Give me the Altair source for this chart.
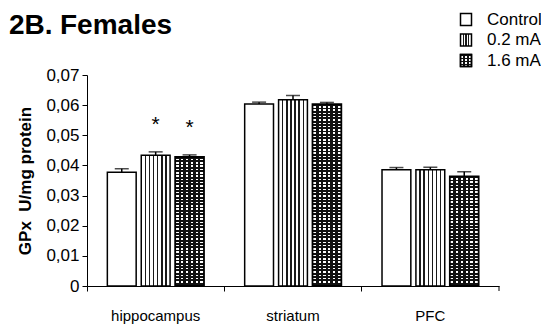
import altair as alt
import pandas as pd

# ---------------- data ----------------
regions = ["hippocampus", "striatum", "PFC"]
groups = ["Control", "0.2 mA", "1.6 mA"]
mean_control = [0.0377, 0.0604, 0.0386]
mean_02 = [0.0434, 0.0618, 0.0386]
mean_16 = [0.0428, 0.0603, 0.0364]
err_control = [0.0012, 0.0006, 0.0007]
err_02 = [0.0011, 0.0014, 0.0008]
err_16 = [0.0007, 0.0006, 0.0015]
star_02 = [True, False, False]
star_16 = [True, False, False]
y_ticks = [0, 0.01, 0.02, 0.03, 0.04, 0.05, 0.06, 0.07]

rows = []
for g, m, e, s in [("Control", mean_control, err_control, [False] * 3),
                   ("0.2 mA", mean_02, err_02, star_02),
                   ("1.6 mA", mean_16, err_16, star_16)]:
    for r, mv, ev, sv in zip(regions, m, e, s):
        rows.append({"region": r, "group": g, "mean": mv, "err": ev,
                     "upper": mv + ev, "star": sv})
df = pd.DataFrame(rows)

FONT = "Liberation Sans"
W, H = 412, 211
PX_PER_UNIT = H / 0.07


# ---------------- pattern helpers ----------------
def banded(bands, bg, fg, vertical=False):
    stops = [alt.GradientStop(color=bg, offset=0)]
    for s, e in bands:
        stops += [alt.GradientStop(color=bg, offset=s),
                  alt.GradientStop(color=fg, offset=s),
                  alt.GradientStop(color=fg, offset=e),
                  alt.GradientStop(color=bg, offset=e)]
    stops.append(alt.GradientStop(color=bg, offset=1))
    if vertical:
        return alt.LinearGradient(gradient="linear", stops=stops, x1=0, x2=0, y1=0, y2=1)
    return alt.LinearGradient(gradient="linear", stops=stops, x1=0, x2=1, y1=0, y2=0)


def lines(n, half):
    return [(i / (n + 1) - half, i / (n + 1) + half) for i in range(1, n + 1)]


def rows_bands(n, frac=0.5):
    return [(k / n, k / n + frac / n) for k in range(n)]


TRANSP = "rgba(0,0,0,0)"
stripe02 = banded(lines(6, 0.025), "white", "#1a1a1a")
base16 = banded(lines(5, 0.045), "white", "#111111")
leg02 = banded(lines(3, 0.05), "white", "#1a1a1a")
leg16 = banded(lines(2, 0.09), "white", "#111111")
leg16h = banded(rows_bands(4, 0.5), TRANSP, "#111111", vertical=True)

# ---------------- encodings ----------------
x_enc = alt.X("region:N", sort=regions,
              scale=alt.Scale(paddingInner=0, paddingOuter=0),
              axis=alt.Axis(title=None, labelAngle=0, bandPosition=0,
                            labelFont=FONT, labelFontSize=15,
                            labelColor="black", labelPadding=17, tickSize=5,
                            tickColor="black", domainColor="black",
                            domainWidth=1, tickWidth=1))
xo_enc = alt.XOffset("group:N", sort=groups,
                     scale=alt.Scale(paddingInner=0.15, paddingOuter=0.6))
y_axis = alt.Axis(values=y_ticks, grid=False,
                  labelExpr="datum.value == 0 ? '0' : replace(format(datum.value, '.2f'), '.', ',')",
                  labelFont=FONT, labelFontSize=17, labelColor="black",
                  labelPadding=3, tickSize=5, tickColor="black",
                  domainColor="black", title="GPx\u00a0\u00a0U/mg protein",
                  titleFont=FONT, titleFontSize=17, titleFontWeight="bold",
                  titleColor="black", titleAngle=-90, titleBaseline="middle",
                  titleX=-62, titleY=H / 2)
y_scale = alt.Scale(domain=[0, 0.07], nice=False, zero=True)


def Y(field):
    return alt.Y(f"{field}:Q", scale=y_scale, axis=y_axis)


base = alt.Chart(df).encode(x=x_enc, xOffset=xo_enc)

bars_c = base.transform_filter(alt.datum.group == "Control").mark_bar(
    fill="white", stroke="black", strokeWidth=1.5).encode(y=Y("mean"))
bars_02 = base.transform_filter(alt.datum.group == "0.2 mA").mark_bar(
    fill=stripe02, stroke="black", strokeWidth=1.5).encode(y=Y("mean"))
bars_16 = base.transform_filter(alt.datum.group == "1.6 mA").mark_bar(
    fill=base16, strokeWidth=0).encode(y=Y("mean"))

overlays = []
for r, mv in zip(regions, mean_16):
    n = max(1, round(mv * PX_PER_UNIT / 3.3))
    grad = banded(rows_bands(n, 0.55), TRANSP, "#111111", vertical=True)
    overlays.append(
        base.transform_filter((alt.datum.group == "1.6 mA") & (alt.datum.region == r))
        .mark_bar(fill=grad, stroke="black", strokeWidth=1.8).encode(y=Y("mean")))

err_rule = base.mark_rule(color="black", strokeWidth=1.5).encode(
    y=Y("mean"), y2="upper:Q")
err_cap = base.mark_tick(color="black", thickness=1.5, size=14,
                         orient="horizontal").encode(y=Y("upper"))
stars = base.transform_filter(alt.datum.star).mark_text(
    text="*", fontSize=21, font=FONT, dy=-27, color="black").encode(y=Y("upper"))

one = pd.DataFrame({"k": [0]})
title_a = alt.Chart(one).mark_text(
    text="2B.", font=FONT, fontSize=28, fontWeight="bold",
    align="left", baseline="alphabetic", color="black").encode(
    x=alt.value(-78), y=alt.value(-41))
title_b = alt.Chart(one).mark_text(
    text="Females", font=FONT, fontSize=28, fontWeight="bold",
    align="left", baseline="alphabetic", color="black").encode(
    x=alt.value(-27), y=alt.value(-41))

legend_labels = groups
leg_y = [-55.5, -35, -14.5]
leg_fills = ["white", leg02, leg16]
legend_layers = []
for lab, cy, fill in zip(legend_labels, leg_y, leg_fills):
    legend_layers.append(alt.Chart(one).mark_rect(
        fill=fill, stroke="black", strokeWidth=1.5).encode(
        x=alt.value(373.5), x2=alt.value(384.5),
        y=alt.value(cy - 6), y2=alt.value(cy + 6)))
    if fill is leg16:
        legend_layers.append(alt.Chart(one).mark_rect(
            fill=leg16h, stroke="black", strokeWidth=1.5).encode(
            x=alt.value(373.5), x2=alt.value(384.5),
            y=alt.value(cy - 6), y2=alt.value(cy + 6)))
    legend_layers.append(alt.Chart(one).mark_text(
        text=lab, font=FONT, fontSize=17, align="left", baseline="middle",
        color="black").encode(x=alt.value(400), y=alt.value(cy)))

end_tick = alt.Chart(one).mark_rule(color="black", strokeWidth=1).encode(
    x=alt.value(W), y=alt.value(H), y2=alt.value(H + 5))

chart = alt.layer(
    bars_c, bars_02, bars_16, *overlays, err_rule, err_cap, stars,
    title_a, title_b, *legend_layers, end_tick
).properties(
    width=W, height=H,
    autosize=alt.AutoSizeParams(type="none"),
    padding={"left": 79, "top": 67, "right": 42, "bottom": 40},
    background="white",
).configure_view(stroke=None)

chart.save("out.html", embed_options={"renderer": "svg", "actions": False})
